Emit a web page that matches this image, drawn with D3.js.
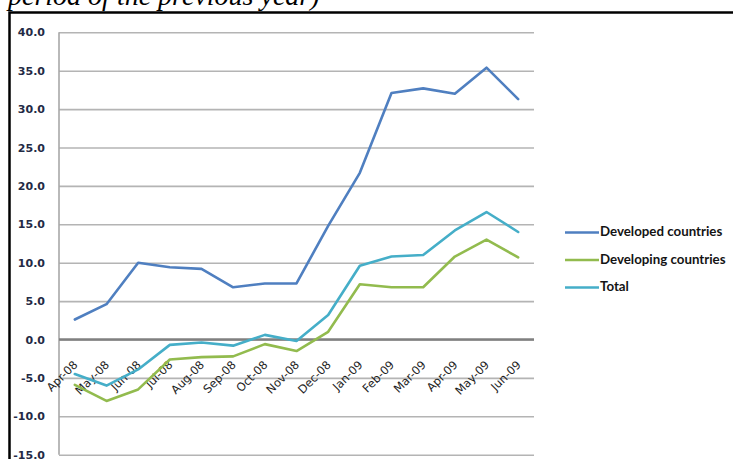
<!DOCTYPE html>
<html>
<head>
<meta charset="utf-8">
<script src="https://cdn.jsdelivr.net/npm/d3@7"></script>
<style>
  html, body { margin: 0; padding: 0; background: #fff; }
  svg { display: block; }
</style>
</head>
<body>
<svg id="chart" width="733" height="459"></svg>
<script>
// Monthly growth rates, % change over the same period of the previous year
const categories = ["Apr-08", "May-08", "Jun-08", "Jul-08", "Aug-08", "Sep-08", "Oct-08", "Nov-08",
                    "Dec-08", "Jan-09", "Feb-09", "Mar-09", "Apr-09", "May-09", "Jun-09"];
const developed  = [2.6, 4.6, 10.0, 9.4, 9.2, 6.8, 7.3, 7.3, 14.8, 21.7, 32.1, 32.7, 32.0, 35.4, 31.3];
const developing = [-5.9, -8.0, -6.5, -2.6, -2.3, -2.2, -0.6, -1.5, 1.0, 7.2, 6.8, 6.8, 10.8, 13.0, 10.7];
const total      = [-4.5, -6.0, -3.9, -0.7, -0.4, -0.8, 0.6, -0.2, 3.2, 9.6, 10.8, 11.0, 14.2, 16.6, 14.0];
const yTicks     = [-15, -10, -5, 0, 5, 10, 15, 20, 25, 30, 35, 40];

const seriesNames  = ["Developed countries", "Developing countries", "Total"];
const seriesValues = [developed, developing, total];
const seriesColors = ["#4f7fc0", "#92bb4e", "#45aec8"];

const svg = d3.select("#chart");

// Caption line above the frame
svg.append("text")
  .attr("x", 8).attr("y", 5)
  .attr("font-family", "Liberation Serif, Times New Roman, serif")
  .attr("font-style", "italic")
  .attr("font-size", 28)
  .attr("fill", "#000")
  .text("period of the previous year)");

// Frame
svg.append("path")
  .attr("d", "M9.5,459 V12.5 H733")
  .attr("fill", "none")
  .attr("stroke", "#000")
  .attr("stroke-width", 2.5);

const plotLeft = 59, plotRight = 534, plotTop = 32.3, plotBottom = 454.7;

const x = d3.scaleBand().domain(categories).range([plotLeft, plotRight]);
const xc = c => x(c) + x.bandwidth() / 2;
const y = d3.scaleLinear().domain([-15, 40]).range([plotBottom, plotTop]);

// Value axis with horizontal gridlines
const yAxis = svg.append("g")
  .attr("transform", `translate(${plotLeft},0)`)
  .call(d3.axisLeft(y)
    .tickValues(yTicks)
    .tickSize(-(plotRight - plotLeft))
    .tickPadding(14)
    .tickFormat(d => d.toFixed(1)));

yAxis.select(".domain").remove();
yAxis.selectAll(".tick line")
  .attr("stroke", "#b4b4b4")
  .attr("stroke-width", 1.6);
yAxis.selectAll(".tick text")
  .attr("font-family", "DejaVu Sans, Verdana, sans-serif")
  .attr("font-weight", "bold")
  .attr("font-size", 11)
  .attr("fill", "#232a45");

// Left axis line
svg.append("line")
  .attr("x1", plotLeft).attr("x2", plotLeft)
  .attr("y1", plotTop).attr("y2", plotBottom)
  .attr("stroke", "#a8a8a8")
  .attr("stroke-width", 1.6);

// Category axis along the zero line
const xAxis = svg.append("g")
  .attr("transform", `translate(0,${y(0)})`)
  .call(d3.axisBottom(x).tickSize(0));

xAxis.select(".domain")
  .attr("stroke", "#808080")
  .attr("stroke-width", 2.6)
  .attr("d", `M${plotLeft},0H${plotRight}`);
xAxis.selectAll(".tick text")
  .attr("x", 0).attr("y", 0).attr("dy", 0)
  .attr("text-anchor", "end")
  .attr("transform", "translate(3.5,26) rotate(-45)")
  .attr("font-family", "DejaVu Sans, Verdana, sans-serif")
  .attr("font-size", 11.5)
  .attr("fill", "#1e1e1e");

// Series lines
const line = d3.line()
  .x((d, i) => xc(categories[i]))
  .y(d => y(d));

seriesValues.forEach((vals, k) => {
  svg.append("path")
    .datum(vals)
    .attr("fill", "none")
    .attr("stroke", seriesColors[k])
    .attr("stroke-width", 2.6)
    .attr("stroke-linejoin", "round")
    .attr("stroke-linecap", "round")
    .attr("d", line);
});

// Legend
const legend = svg.append("g");
const legendY = [232.5, 260, 287.5];
seriesNames.forEach((name, k) => {
  legend.append("line")
    .attr("x1", 565).attr("x2", 599)
    .attr("y1", legendY[k]).attr("y2", legendY[k])
    .attr("stroke", seriesColors[k])
    .attr("stroke-width", 2.6);
  legend.append("text")
    .attr("x", 600).attr("y", legendY[k] + 3.8)
    .attr("font-family", "Lato, Open Sans, sans-serif")
    .attr("font-weight", "bold")
    .attr("font-size", 13.3)
    .attr("fill", "#141414")
    .text(name);
});
</script>
</body>
</html>
